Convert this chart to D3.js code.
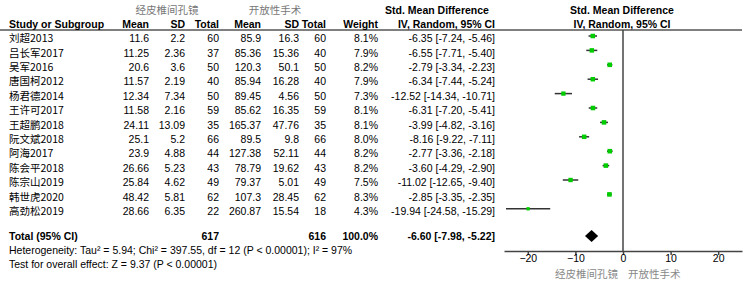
<!DOCTYPE html>
<html>
<head>
<meta charset="utf-8">
<script src="https://cdn.jsdelivr.net/npm/d3@7"></script>
<style>
  body { margin: 0; background: #fff; }
  text { font-family: "Liberation Sans", Arial, "Noto Sans CJK SC", sans-serif; font-size: 10.5px; fill: #000; }
  .cjk { font-family: "Noto Sans CJK SC", sans-serif; }
  .bold { font-weight: bold; }
</style>
</head>
<body>
<div id="chart"></div>
<script>
// study data
const studies = ["刘超2013", "吕长军2017", "吴军2016", "唐国柯2012", "杨君德2014", "王许可2017", "王超鹏2018",
  "阮文斌2018", "阿海2017", "陈会平2018", "陈宗山2019", "韩世虎2020", "高劲松2019"];
const expMean = ["11.6", "11.25", "20.6", "11.57", "12.34", "11.58", "24.11", "25.1", "23.9", "26.66", "25.84", "48.42", "28.66"];
const expSD = ["2.2", "2.36", "3.6", "2.19", "7.34", "2.16", "13.09", "5.2", "4.88", "5.23", "4.62", "5.81", "6.35"];
const expN = [60, 37, 50, 40, 50, 59, 35, 66, 44, 43, 49, 62, 22];
const ctlMean = ["85.9", "85.36", "120.3", "85.94", "89.45", "85.62", "165.37", "89.5", "127.38", "78.79", "79.37", "107.3", "260.87"];
const ctlSD = ["16.3", "15.36", "50.1", "16.28", "4.56", "16.35", "47.76", "9.8", "52.11", "19.62", "5.01", "28.45", "15.54"];
const ctlN = [60, 40, 50, 40, 50, 59, 35, 66, 44, 43, 49, 62, 18];
const weights = [8.1, 7.9, 8.2, 7.9, 7.3, 8.1, 8.1, 8.0, 8.2, 8.2, 7.5, 8.3, 4.3];
const smd = [-6.35, -6.55, -2.79, -6.34, -12.52, -6.31, -3.99, -8.16, -2.77, -3.60, -11.02, -2.85, -19.94];
const lower = [-7.24, -7.71, -3.34, -7.44, -14.34, -7.20, -4.82, -9.22, -3.36, -4.29, -12.65, -3.35, -24.58];
const upper = [-5.46, -5.40, -2.23, -5.24, -10.71, -5.41, -3.16, -7.11, -2.18, -2.90, -9.40, -2.35, -15.29];

// overall
const total = { expN: 617, ctlN: 616, weight: "100.0%", est: -6.60, lo: -7.98, hi: -5.22 };
const heterogeneity = "Heterogeneity: Tau² = 5.94; Chi² = 397.55, df = 12 (P < 0.00001); I² = 97%";
const overallTest = "Test for overall effect: Z = 9.37 (P < 0.00001)";
const xTicks = [-20, -10, 0, 10, 20];
const favourLeft = "经皮椎间孔镜";
const favourRight = "开放性手术";

const width = 751, height = 281;
const svg = d3.select("#chart").append("svg")
  .attr("width", width).attr("height", height);

const x = d3.scaleLinear().domain([-25, 25]).range([504, 742]);
const y = d3.scaleLinear().domain([0, 12]).range([38.5, 211.3]);
const wSize = d3.scaleSqrt().domain([0, 8]).range([0, 4.5]);

const fmt = d => d.toFixed(2);

// headers
const head = svg.append("g");
head.append("text").attr("class", "cjk").attr("x", 167).attr("y", 10).attr("dy", "0.35em")
  .attr("text-anchor", "middle").style("fill", "#777").text(favourLeft);
head.append("text").attr("class", "cjk").attr("x", 275).attr("y", 10).attr("dy", "0.35em")
  .attr("text-anchor", "middle").style("fill", "#777").text(favourRight);
head.append("text").attr("class", "bold").attr("x", 437).attr("y", 10).attr("dy", "0.35em")
  .attr("text-anchor", "middle").text("Std. Mean Difference");
head.append("text").attr("class", "bold").attr("x", 622).attr("y", 10).attr("dy", "0.35em")
  .attr("text-anchor", "middle").text("Std. Mean Difference");

const cols = [
  { x: 9, anchor: "start", t: "Study or Subgroup" },
  { x: 149, anchor: "end", t: "Mean" },
  { x: 185, anchor: "end", t: "SD" },
  { x: 219, anchor: "end", t: "Total" },
  { x: 261, anchor: "end", t: "Mean" },
  { x: 299, anchor: "end", t: "SD" },
  { x: 326, anchor: "end", t: "Total" },
  { x: 378, anchor: "end", t: "Weight" },
  { x: 495, anchor: "end", t: "IV, Random, 95% CI" },
  { x: 622, anchor: "middle", t: "IV, Random, 95% CI" }
];
head.selectAll(".col").data(cols).enter().append("text")
  .attr("class", "bold").attr("x", d => d.x).attr("y", 24).attr("dy", "0.35em")
  .attr("text-anchor", d => d.anchor).text(d => d.t);

svg.append("line").attr("x1", 0).attr("x2", 742).attr("y1", 30).attr("y2", 30)
  .attr("stroke", "#000").attr("stroke-width", 1);

// table rows
const rows = studies.map((s, i) => ({
  cells: [s, expMean[i], expSD[i], expN[i], ctlMean[i], ctlSD[i], ctlN[i], weights[i].toFixed(1) + "%",
    fmt(smd[i]) + " [" + fmt(lower[i]) + ", " + fmt(upper[i]) + "]"],
  i: i
}));

const rowG = svg.selectAll(".row").data(rows).enter().append("g")
  .attr("transform", d => `translate(0,${y(d.i)})`);
rowG.selectAll("text").data(d => d.cells.map((c, k) => ({ c: c, col: cols[k] }))).enter().append("text")
  .attr("class", (d, k) => k === 0 ? "cjk" : null)
  .attr("x", d => d.col.x).attr("dy", "0.35em")
  .attr("text-anchor", d => d.col.anchor).text(d => d.c);

// total row
const ty = 236;
const totalCells = [
  { x: 9, anchor: "start", t: "Total (95% CI)" },
  { x: 219, anchor: "end", t: total.expN },
  { x: 326, anchor: "end", t: total.ctlN },
  { x: 378, anchor: "end", t: total.weight },
  { x: 495, anchor: "end", t: fmt(total.est) + " [" + fmt(total.lo) + ", " + fmt(total.hi) + "]" }
];
svg.selectAll(".tot").data(totalCells).enter().append("text")
  .attr("class", "bold").attr("x", d => d.x).attr("y", ty).attr("dy", "0.35em")
  .attr("text-anchor", d => d.anchor).text(d => d.t);
svg.append("text").attr("x", 9).attr("y", 250).attr("dy", "0.35em").text(heterogeneity);
svg.append("text").attr("x", 9).attr("y", 264).attr("dy", "0.35em").text(overallTest);

// forest plot
const axisY = 251;
svg.append("line").attr("x1", x(0)).attr("x2", x(0)).attr("y1", 30).attr("y2", axisY)
  .attr("stroke", "#444").attr("stroke-width", 1.5);

const plotG = svg.selectAll(".mark").data(rows).enter().append("g")
  .attr("transform", d => `translate(0,${y(d.i) - 2.5})`);
plotG.append("line")
  .attr("x1", d => x(lower[d.i])).attr("x2", d => x(upper[d.i]))
  .attr("stroke", "#333").attr("stroke-width", 1.5);
plotG.append("rect")
  .attr("x", d => x(smd[d.i]) - wSize(weights[d.i]) / 2)
  .attr("y", d => -wSize(weights[d.i]) / 2)
  .attr("width", d => wSize(weights[d.i]))
  .attr("height", d => wSize(weights[d.i]))
  .attr("fill", "#00cc00");

// diamond
const dh = 6;
svg.append("path")
  .attr("d", `M${x(total.lo)},${ty} L${x(total.est)},${ty - dh} L${x(total.hi)},${ty} L${x(total.est)},${ty + dh} Z`)
  .attr("fill", "#000");

// axis
const axis = svg.append("g").attr("transform", `translate(0,${axisY})`)
  .call(d3.axisBottom(x).tickValues(xTicks).tickSize(4).tickSizeOuter(0).tickPadding(0));
axis.select(".domain").attr("stroke", "#444").attr("stroke-width", 1.5);
axis.selectAll(".tick line").attr("stroke", "#444").attr("stroke-width", 1.5);
axis.selectAll(".tick text").style("font-family", "'Liberation Sans', Arial, sans-serif").style("font-size", "10.5px").style("fill", "#000");

svg.append("text").attr("class", "cjk").attr("x", x(0) - 5).attr("y", 274).attr("dy", "0.35em")
  .attr("text-anchor", "end").style("fill", "#888").text(favourLeft);
svg.append("text").attr("class", "cjk").attr("x", x(0) + 5).attr("y", 274).attr("dy", "0.35em")
  .attr("text-anchor", "start").style("fill", "#888").text(favourRight);
</script>
</body>
</html>
